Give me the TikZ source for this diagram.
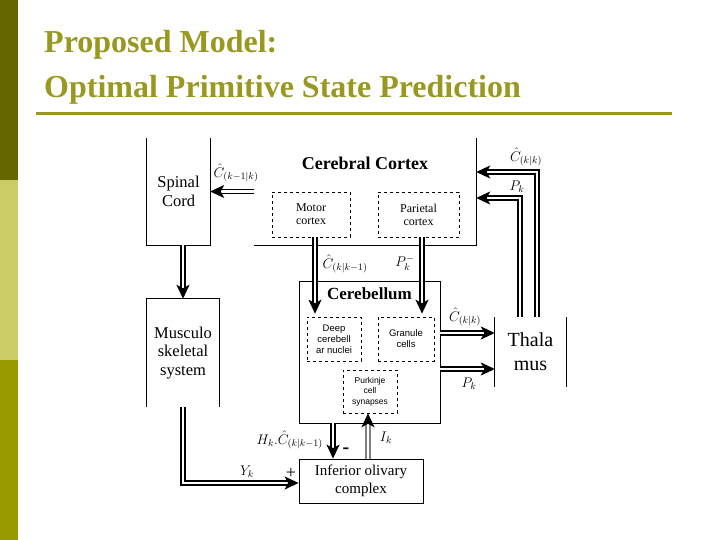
\documentclass[tikz,border=0pt]{standalone}
\usepackage{fix-cm}
\usepackage{fontspec}
\setmainfont{Liberation Serif}
\newfontfamily\cbsans{Liberation Sans}
\usetikzlibrary{arrows.meta,calc}
\definecolor{cbOlive}{HTML}{999922}
\definecolor{cbDark}{HTML}{666600}
\definecolor{cbLight}{HTML}{CCCC66}
\definecolor{cbMid}{HTML}{999900}
\tikzset{
  cb frame/.style={inner sep=0pt, align=center, font=\fontsize{16.5}{18.5}\selectfont},
  cb box/.style={cb frame, draw, line width=0.8pt},
  cb dashed/.style={draw, dashed, line width=0.6pt, inner sep=0pt, align=center, font=\fontsize{12}{13}\selectfont},
  cb small/.style={cb dashed, font=\cbsans\fontsize{9.5}{11}\selectfont},
  cb pipe/.style={draw, double, double distance=2.4pt, line width=1.4pt, -{Stealth[length=14pt,width=13pt,inset=3.5pt,color=black]}},
  cb math/.style={font=\fontsize{14}{16}\selectfont, inner sep=0pt},
  cb title/.style={font=\fontsize{32}{36}\selectfont\bfseries, text=cbOlive, anchor=base west, inner sep=0pt},
}

\begin{document}
\begin{tikzpicture}[x=1pt,y=-1pt]
  \useasboundingbox (0,0) rectangle (720,540);
  \fill[white] (0,0) rectangle (720,540);
  % side bar
  \fill[cbDark] (0,0) rectangle (18,180);
  \fill[cbLight] (0,180) rectangle (18,360);
  \fill[cbMid] (0,360) rectangle (18,540);
  % heading
  \node[cb title] (head1) at (44,53) {Proposed Model:};
  \node[cb title] (head2) at (44,98) {Optimal Primitive State Prediction};
  \draw[cbOlive, line width=3pt] (36,114) -- (672,114);

  % open frames
  \node[cb frame, minimum width=63pt, minimum height=107pt] (spinal) at (178.5,191.5) {Spinal\\Cord};
  \draw[line width=0.8pt] (spinal.north west) -- (spinal.south west) -- (spinal.south east) -- (spinal.north east);
  \node[cb frame, minimum width=222pt, minimum height=107pt] (cortex) at (365,191.5) {};
  \draw[line width=0.8pt] (cortex.south west) -- (cortex.south east) -- (cortex.north east);
  \node[font=\fontsize{18}{20}\selectfont\bfseries] (cortexT) at (365,163) {Cerebral Cortex};
  \node[cb dashed, minimum width=78pt, minimum height=45pt] (motor) at (311,214.5) {Motor\\cortex};
  \node[cb dashed, minimum width=81pt, minimum height=45pt] (parietal) at (418.5,214.5) {Parietal\\cortex};

  \node[cb box, minimum width=141pt, minimum height=142pt] (cereb) at (369.5,352) {};
  \node[font=\fontsize{17}{19}\selectfont\bfseries] (cerebT) at (369.5,294) {Cerebellum};
  \node[cb small, minimum width=54pt, minimum height=44pt] (deep) at (334,339) {Deep\\cerebell\\ar nuclei};
  \node[cb small, minimum width=56pt, minimum height=44pt] (granule) at (406,339) {Granule\\cells};
  \node[cb small, minimum width=54pt, minimum height=43pt, font=\cbsans\fontsize{8.5}{10.5}\selectfont] (purk) at (370,391.5) {Purkinje\\cell\\synapses};

  \node[cb frame, minimum width=72pt, minimum height=108pt] (musculo) at (183,353) {Musculo\\skeletal\\system};
  \draw[line width=0.8pt] (musculo.south west) -- (musculo.north west) -- (musculo.north east) -- (musculo.south east);
  \node[cb frame, minimum width=71pt, minimum height=70pt, font=\fontsize{20}{24}\selectfont] (thal) at (530.5,352) {Thala\\mus};
  \draw[line width=0.8pt] (thal.north west) -- (thal.south west);
  \draw[line width=0.8pt] (thal.north east) -- (thal.south east);
  \node[cb box, minimum width=124pt, minimum height=44pt, font=\fontsize{15}{18}\selectfont] (olive) at (361,481) {Inferior olivary\\complex};

  % pathways
  \draw[cb pipe] (cortex.west) -- (spinal.east);
  \draw[cb pipe] ([xshift=6.5pt]thal.north) |- ($(cortex.east)+(0,-19.5)$);
  \draw[cb pipe] ([xshift=-10.5pt]thal.north) |- ($(cortex.east)+(0,6.5)$);
  \draw[cb pipe] ([xshift=4pt]motor.south) -- ($(deep.north)+(-19,-3)$);
  \draw[cb pipe] ([xshift=3.5pt]parietal.south) -- ($(granule.north)+(16,-3)$);
  \draw[cb pipe] ($(cereb.east)+(0,-19)$) -- ($(thal.west)+(0,-19)$);
  \draw[cb pipe] ($(cereb.east)+(0,17)$) -- ($(thal.west)+(0,17)$);
  \draw[cb pipe] (musculo.north |- spinal.south) -- (musculo.north);
  \draw[cb pipe] (musculo.south) |- ($(olive.west)+(0,2)$);
  \path ($(olive.north)+(-28,0)$) coordinate (hkIn) ($(olive.north)+(7,0)$) coordinate (ikOut);
  \draw[cb pipe] (hkIn |- cereb.south) -- (hkIn);
  \draw[cb pipe, draw=gray] (ikOut) -- (ikOut |- purk.south);

  % signal labels
  \node[cb math] (lblSp) at (236,173) {$\hat C_{(k-1|k)}$};
  \node[cb math] (lblCk) at (526,157) {$\hat C_{(k|k)}$};
  \node[cb math] (lblPk) at (517,187) {$P_k$};
  \node[cb math] (lblCp) at (345,264) {$\hat C_{(k|k-1)}$};
  \node[cb math] (lblPm) at (405,263) {$P_k^-$};
  \node[cb math] (lblCt) at (465,317) {$\hat C_{(k|k)}$};
  \node[cb math] (lblPt) at (469,384) {$P_k$};
  \node[cb math, anchor=east] (lblH) at (323,440) {$H_k.\hat C_{(k|k-1)}$};
  \node[font=\bfseries\fontsize{20}{20}\selectfont] (minus) at (346,451) {-};
  \node[cb math] (lblI) at (386,438) {$I_k$};
  \node[cb math] (lblY) at (247,472) {$Y_k$};
  \node[font=\fontsize{18}{18}\selectfont] (plus) at (291,473) {+};
\end{tikzpicture}
\end{document}
